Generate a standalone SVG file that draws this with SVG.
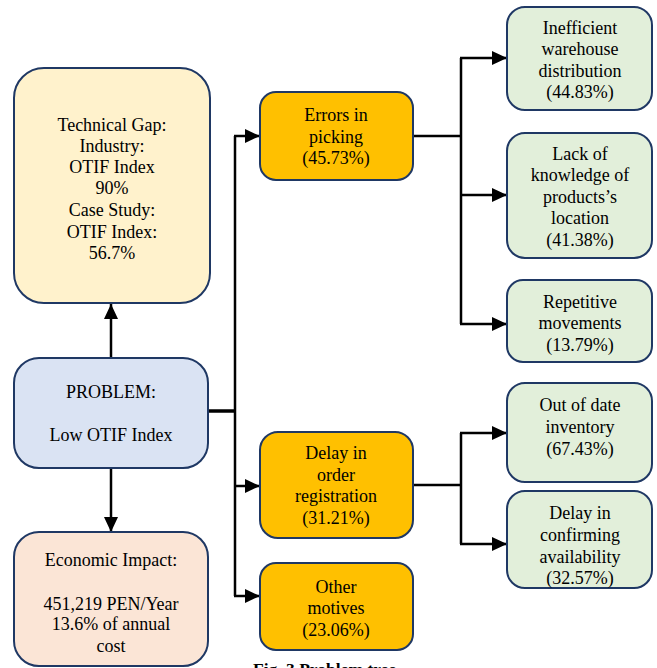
<svg xmlns="http://www.w3.org/2000/svg" width="657" height="668" viewBox="0 0 657 668">
  <style>
    .box { stroke: #1F3864; stroke-width: 2; }
    .gap { fill: #FFF2CC; }
    .prob { fill: #DAE3F3; }
    .econ { fill: #FBE5D6; }
    .cause { fill: #FFC000; }
    .sub { fill: #E2EFDA; }
    text { font-family: "Liberation Serif", "Times New Roman", Times, serif; font-size: 18px; fill: #000; text-anchor: middle; }
    .caption { font-weight: bold; text-anchor: start; font-size: 17.5px; }
    .wire { fill: none; stroke: #000; stroke-width: 2.5; }
    .thick { stroke-width: 3.5; }
  </style>
  <defs>
    <marker id="arrow" markerUnits="userSpaceOnUse" markerWidth="16" markerHeight="14" refX="15" refY="7" orient="auto">
      <path d="M0,0 L15,7 L0,14 Z" fill="#000"/>
    </marker>
  </defs>
  <rect width="657" height="668" fill="#fff"/>

  <!-- connectors -->
  <g id="connectors">
    <line class="wire" x1="111" y1="358" x2="111" y2="304" marker-end="url(#arrow)"/>
    <line class="wire" x1="111" y1="468" x2="111" y2="532" marker-end="url(#arrow)"/>
    <line class="wire thick" x1="208" y1="411" x2="236" y2="411"/>
    <line class="wire" x1="235" y1="136" x2="235" y2="596"/>
    <line class="wire" x1="234" y1="136" x2="260" y2="136" marker-end="url(#arrow)"/>
    <line class="wire" x1="234" y1="486" x2="260" y2="486" marker-end="url(#arrow)"/>
    <line class="wire" x1="234" y1="596" x2="260" y2="596" marker-end="url(#arrow)"/>

    <line class="wire" x1="413" y1="136" x2="461" y2="136"/>
    <line class="wire" x1="461" y1="58" x2="461" y2="324"/>
    <line class="wire" x1="460" y1="58" x2="507" y2="58" marker-end="url(#arrow)"/>
    <line class="wire" x1="460" y1="195" x2="507" y2="195" marker-end="url(#arrow)"/>
    <line class="wire" x1="460" y1="324" x2="507" y2="324" marker-end="url(#arrow)"/>

    <line class="wire" x1="413" y1="485" x2="461" y2="485"/>
    <line class="wire" x1="461" y1="433" x2="461" y2="544"/>
    <line class="wire" x1="460" y1="433" x2="507" y2="433" marker-end="url(#arrow)"/>
    <line class="wire" x1="460" y1="544" x2="507" y2="544" marker-end="url(#arrow)"/>
  </g>

  <g id="technical-gap">
    <rect class="box gap" x="14" y="68" width="196" height="235" rx="30"/>
    <text x="112" y="131">Technical Gap:</text>
    <text x="112" y="152">Industry:</text>
    <text x="112" y="173">OTIF Index</text>
    <text x="112" y="194">90%</text>
    <text x="112" y="216">Case Study:</text>
    <text x="112" y="238">OTIF Index:</text>
    <text x="112" y="259">56.7%</text>
  </g>

  <g id="problem">
    <rect class="box prob" x="14" y="358" width="194" height="110" rx="25"/>
    <text x="111" y="398">PROBLEM:</text>
    <text x="111" y="441">Low OTIF Index</text>
  </g>

  <g id="economic-impact">
    <rect class="box econ" x="14" y="532" width="194" height="134" rx="25"/>
    <text x="111" y="566">Economic Impact:</text>
    <text x="111" y="610">451,219 PEN/Year</text>
    <text x="111" y="630">13.6% of annual</text>
    <text x="111" y="652">cost</text>
  </g>

  <g id="errors-picking">
    <rect class="box cause" x="260" y="92" width="153" height="88" rx="16"/>
    <text x="336" y="121">Errors in</text>
    <text x="336" y="143">picking</text>
    <text x="336" y="164">(45.73%)</text>
  </g>

  <g id="delay-order">
    <rect class="box cause" x="260" y="432" width="153" height="106" rx="18"/>
    <text x="336" y="459">Delay in</text>
    <text x="336" y="481">order</text>
    <text x="336" y="502">registration</text>
    <text x="336" y="524">(31.21%)</text>
  </g>

  <g id="other-motives">
    <rect class="box cause" x="260" y="563" width="153" height="87" rx="16"/>
    <text x="336" y="593">Other</text>
    <text x="336" y="614">motives</text>
    <text x="336" y="636">(23.06%)</text>
  </g>

  <g id="warehouse-distribution">
    <rect class="box sub" x="507" y="7" width="145" height="103" rx="18"/>
    <text x="580" y="34">Inefficient</text>
    <text x="580" y="55">warehouse</text>
    <text x="580" y="77">distribution</text>
    <text x="580" y="98">(44.83%)</text>
  </g>

  <g id="product-location">
    <rect class="box sub" x="507" y="133" width="145" height="125" rx="18"/>
    <text x="580" y="160">Lack of</text>
    <text x="580" y="181">knowledge of</text>
    <text x="580" y="203">products’s</text>
    <text x="580" y="224">location</text>
    <text x="580" y="246">(41.38%)</text>
  </g>

  <g id="repetitive-movements">
    <rect class="box sub" x="507" y="280" width="145" height="82" rx="16"/>
    <text x="580" y="308">Repetitive</text>
    <text x="580" y="329">movements</text>
    <text x="580" y="351">(13.79%)</text>
  </g>

  <g id="outdated-inventory">
    <rect class="box sub" x="507" y="383" width="145" height="99" rx="18"/>
    <text x="580" y="411">Out of date</text>
    <text x="580" y="433">inventory</text>
    <text x="580" y="455">(67.43%)</text>
  </g>

  <g id="confirming-availability">
    <rect class="box sub" x="507" y="491" width="145" height="97" rx="18"/>
    <text x="580" y="519">Delay in</text>
    <text x="580" y="541">confirming</text>
    <text x="580" y="563">availability</text>
    <text x="580" y="584">(32.57%)</text>
  </g>

  <text class="caption" x="253" y="675">Fig. 3 Problem tree</text>
</svg>
